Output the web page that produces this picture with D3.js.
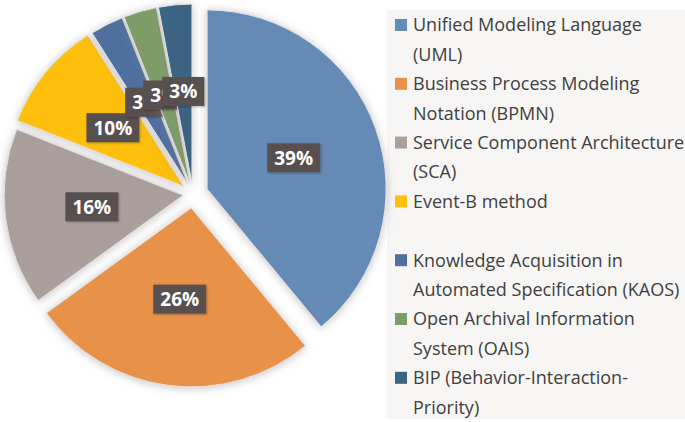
<!DOCTYPE html>
<html>
<head>
<meta charset="utf-8">
<script src="https://cdn.jsdelivr.net/npm/d3@7"></script>
<style>
  html,body{margin:0;padding:0;background:#fff;}
  svg{display:block;}
</style>
</head>
<body>
<svg id="chart" width="685" height="422"></svg>
<script>
// data
const categories = [
  "Unified Modeling Language (UML)",
  "Business Process Modeling Notation (BPMN)",
  "Service Component Architecture (SCA)",
  "Event-B method",
  "Knowledge Acquisition in Automated Specification (KAOS)",
  "Open Archival Information System (OAIS)",
  "BIP (Behavior-Interaction-Priority)"
];
const shares = [39, 26, 16, 10, 3, 3, 3];
const colors = ["#658ab5", "#e8914a", "#ab9f9e", "#fec00f", "#50709f", "#7e9c68", "#3c6483"];
const explode = [15, 14, 10, 12, 11, 11, 11];

const W = 685, H = 422;
const cx = 193, cy = 194, R = 179;

const svg = d3.select("#chart");
const defs = svg.append("defs");
const sh = defs.append("filter").attr("id","shadow")
  .attr("x","-20%").attr("y","-20%").attr("width","140%").attr("height","140%");
sh.append("feDropShadow").attr("dx",0).attr("dy",1).attr("stdDeviation",4)
  .attr("flood-color","#8c8484").attr("flood-opacity",0.5);

const lsh = defs.append("filter").attr("id","lshadow")
  .attr("x","-20%").attr("y","-20%").attr("width","140%").attr("height","140%");
lsh.append("feDropShadow").attr("dx",1).attr("dy",1).attr("stdDeviation",1)
  .attr("flood-color","#000").attr("flood-opacity",0.3);

// legend panel
svg.append("rect").attr("x",387).attr("y",10).attr("width",W-387).attr("height",409)
  .attr("fill","#f7f6f5");

const pie = d3.pie().sort(null).value(d=>d)(shares);
const arc = d3.arc().innerRadius(0).outerRadius(R);
const labelArc = d3.arc().innerRadius(92).outerRadius(92);

const g = svg.append("g").attr("transform",`translate(${cx},${cy})`);

const slices = g.selectAll("g.slice").data(pie).join("g")
  .attr("class","slice")
  .attr("transform",(d,i)=>{
    const a = (d.startAngle+d.endAngle)/2;
    return `translate(${Math.sin(a)*explode[i]},${-Math.cos(a)*explode[i]})`;
  });

slices.append("path")
  .attr("d",arc)
  .attr("fill",(d,i)=>colors[i])
  .attr("stroke","#e4e0df")
  .attr("stroke-width",1)
  .attr("filter","url(#shadow)");

// data labels
const fmt = d=>d.value+"%";
const lab = slices.append("g")
  .attr("transform",d=>`translate(${labelArc.centroid(d)})`);
lab.each(function(d){
  const el = d3.select(this);
  const t = el.append("text")
    .attr("text-anchor","middle").attr("dy","0.36em")
    .attr("font-family","'Open Sans', sans-serif").attr("font-weight","bold")
    .attr("font-size",19).attr("fill","#fff")
    .text(fmt(d));
  const w = t.node().getComputedTextLength();
  el.insert("rect","text")
    .attr("x",-w/2-7).attr("y",-14.5).attr("width",w+14).attr("height",29)
    .attr("fill","#594f50").attr("filter","url(#lshadow)");
});

// legend
const legFont = "'Open Sans', sans-serif";
const legSize = 18;
const lineH = 29.4;
const maxW = 274;
const leg = svg.append("g");
const meas = leg.append("text").attr("font-family",legFont).attr("font-size",legSize);
function wrap(str){
  const parts = str.split(/(?<=[ -])/);
  const lines = []; let cur = "";
  parts.forEach(p=>{
    const test = cur + p;
    meas.text(test.trimEnd());
    if(cur && meas.node().getComputedTextLength() > maxW){ lines.push(cur.trimEnd()); cur = p; }
    else cur = test;
  });
  lines.push(cur.trimEnd());
  return lines;
}
let line = 0;
categories.forEach((c,i)=>{
  if(i===4) line += 1; // empty row in the legend before KAOS
  const lines = wrap(c);
  const y0 = 25 + line*lineH;
  leg.append("rect").attr("x",395).attr("y",y0-6).attr("width",12).attr("height",12)
    .attr("fill",colors[i]);
  const t = leg.append("text").attr("font-family",legFont).attr("font-size",legSize)
    .attr("fill","#404040");
  lines.forEach((l,k)=>{
    t.append("tspan").attr("x",413).attr("y",y0+k*lineH).attr("dy","0.35em").text(l);
  });
  line += lines.length;
});
meas.remove();
</script>
</body>
</html>
